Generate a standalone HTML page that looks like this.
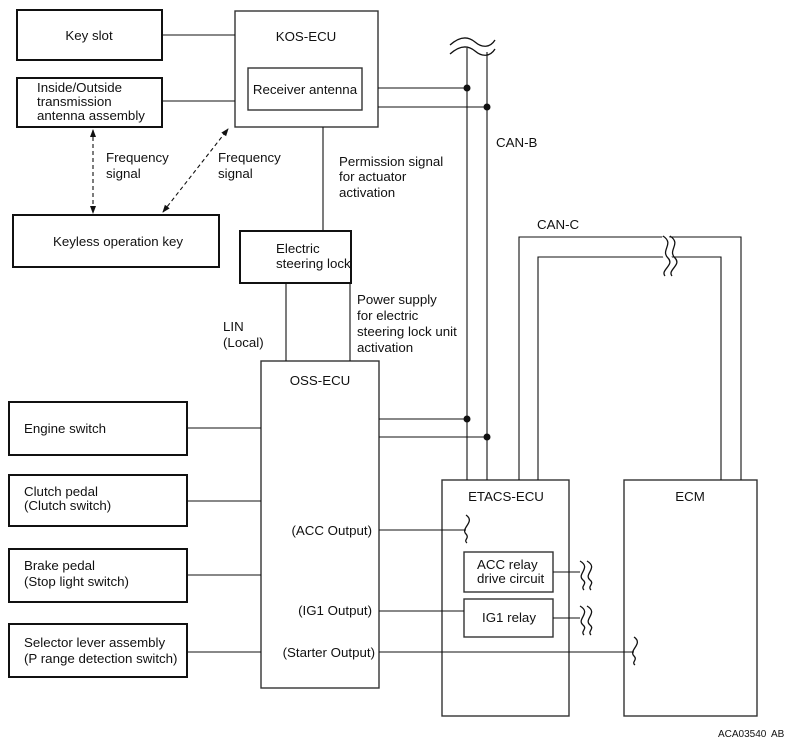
<!DOCTYPE html>
<html><head><meta charset="utf-8"><style>
html,body{margin:0;padding:0;background:#fff;}
svg{display:block;}
text{font-family:"Liberation Sans",Arial,sans-serif;font-size:13.3px;fill:#111;}
</style></head><body>
<svg width="796" height="746" viewBox="0 0 796 746" xmlns="http://www.w3.org/2000/svg">
<defs>
<marker id="ah" markerWidth="8" markerHeight="8" refX="7" refY="4" orient="auto-start-reverse" markerUnits="userSpaceOnUse">
<path d="M0,1 L8,4 L0,7 z" fill="#111"/></marker>
</defs>
<g fill="none" stroke="#111" stroke-width="2">
<rect x="17" y="10" width="145" height="50"/>
<rect x="17" y="78" width="145" height="49"/>
<rect x="13" y="215" width="206" height="52"/>
<rect x="240" y="231" width="111" height="52"/>
<rect x="9" y="402" width="178" height="53"/>
<rect x="9" y="475" width="178" height="51"/>
<rect x="9" y="549" width="178" height="53"/>
<rect x="9" y="624" width="178" height="53"/>
</g>
<g fill="none" stroke="#333" stroke-width="1.4">
<rect x="235" y="11" width="143" height="116"/>
<rect x="248" y="68" width="114" height="42"/>
<rect x="261" y="361" width="118" height="327"/>
<rect x="442" y="480" width="127" height="236"/>
<rect x="624" y="480" width="133" height="236"/>
<rect x="464" y="552" width="89" height="40"/>
<rect x="464" y="599" width="89" height="38"/>
</g>
<g fill="none" stroke="#111" stroke-width="1.1">
<line x1="162" y1="35" x2="235" y2="35"/>
<line x1="162" y1="101" x2="235" y2="101"/>
<line x1="378" y1="88" x2="467" y2="88"/>
<line x1="378" y1="107" x2="487" y2="107"/>
<line x1="467" y1="48" x2="467" y2="480"/>
<line x1="487" y1="52" x2="487" y2="480"/>
<line x1="323" y1="127" x2="323" y2="231"/>
<line x1="286" y1="283" x2="286" y2="361"/>
<line x1="350" y1="283" x2="350" y2="361"/>
<line x1="379" y1="419" x2="467" y2="419"/>
<line x1="379" y1="437" x2="487" y2="437"/>
<polyline points="519,480 519,237 741,237 741,480"/>
<polyline points="538,480 538,257 721,257 721,480"/>
<line x1="187" y1="428" x2="261" y2="428"/>
<line x1="187" y1="501" x2="261" y2="501"/>
<line x1="187" y1="575" x2="261" y2="575"/>
<line x1="187" y1="652" x2="261" y2="652"/>
<line x1="379" y1="530" x2="466" y2="530"/>
<line x1="379" y1="611" x2="464" y2="611"/>
<line x1="379" y1="652" x2="634" y2="652"/>
<line x1="553" y1="572" x2="580" y2="572"/>
<line x1="553" y1="618" x2="580" y2="618"/>
<line x1="93" y1="130" x2="93" y2="213" stroke-dasharray="4,3" marker-start="url(#ah)" marker-end="url(#ah)"/>
<line x1="163" y1="212" x2="228" y2="129" stroke-dasharray="4,3" marker-start="url(#ah)" marker-end="url(#ah)"/>
</g>
<g fill="none" stroke="#111" stroke-width="1.3">
<path d="M450,48 C460,38 468,38 475,44 C482,50 490,50 495,42" stroke="#fff" stroke-width="6"/>
<path d="M450,45 C460,36 468,36 475,42 C482,48 490,48 495,40"/>
<path d="M450,54 C460,45 468,45 475,51 C482,57 490,57 495,49"/>
<path d="M663,236 C675,244 660,250 668,258 C675,265 660,270 665,276" stroke="#fff" stroke-width="7"/>
<path d="M663,236 C675,244 660,250 668,258 C675,265 660,270 665,276"/>
<path d="M670,236 C682,244 667,250 675,258 C682,265 667,270 672,276"/>
<path d="M466,515 C476,522 460,528 466,534 C470,538 463,540 467,543"/>
<path d="M580,561 C592,568 576,574 583,580 C588,584 580,586 584,590"/>
<path d="M587,561 C599,568 583,574 590,580 C595,584 587,586 591,590"/>
<path d="M580,606 C592,613 576,619 583,625 C588,629 580,631 584,635"/>
<path d="M587,606 C599,613 583,619 590,625 C595,629 587,631 591,635"/>
<path d="M634,637 C644,644 628,650 634,656 C638,660 631,662 635,665"/>
</g>
<g fill="#111">
<circle cx="467" cy="88" r="3.5"/><circle cx="487" cy="107" r="3.5"/>
<circle cx="467" cy="419" r="3.5"/><circle cx="487" cy="437" r="3.5"/>
</g>
<text x="89" y="40" text-anchor="middle">Key slot</text>
<text x="37" y="92">Inside/Outside</text>
<text x="37" y="106">transmission</text>
<text x="37" y="120">antenna assembly</text>
<text x="306" y="41" text-anchor="middle">KOS-ECU</text>
<text x="305" y="94" text-anchor="middle">Receiver antenna</text>
<text x="106" y="162">Frequency</text>
<text x="106" y="178">signal</text>
<text x="218" y="162">Frequency</text>
<text x="218" y="178">signal</text>
<text x="118" y="246" text-anchor="middle">Keyless operation key</text>
<text x="339" y="166">Permission signal</text>
<text x="339" y="181">for actuator</text>
<text x="339" y="197">activation</text>
<text x="496" y="147">CAN-B</text>
<text x="537" y="229">CAN-C</text>
<text x="276" y="253">Electric</text>
<text x="276" y="268">steering lock</text>
<text x="357" y="304">Power supply</text>
<text x="357" y="320">for electric</text>
<text x="357" y="336">steering lock unit</text>
<text x="357" y="352">activation</text>
<text x="223" y="331">LIN</text>
<text x="223" y="347">(Local)</text>
<text x="320" y="385" text-anchor="middle">OSS-ECU</text>
<text x="24" y="433">Engine switch</text>
<text x="24" y="496">Clutch pedal</text>
<text x="24" y="510">(Clutch switch)</text>
<text x="24" y="570">Brake pedal</text>
<text x="24" y="586">(Stop light switch)</text>
<text x="24" y="647">Selector lever assembly</text>
<text x="24" y="663">(P range detection switch)</text>
<text x="372" y="535" text-anchor="end">(ACC Output)</text>
<text x="372" y="615" text-anchor="end">(IG1 Output)</text>
<text x="375" y="657" text-anchor="end">(Starter Output)</text>
<text x="506" y="501" text-anchor="middle">ETACS-ECU</text>
<text x="690" y="501" text-anchor="middle">ECM</text>
<text x="477" y="569">ACC relay</text>
<text x="477" y="583">drive circuit</text>
<text x="509" y="622" text-anchor="middle">IG1 relay</text>
<text x="718" y="737" style="font-size:10px">ACA03540</text>
<text x="771" y="737" style="font-size:10px">AB</text>
</svg>
</body></html>
